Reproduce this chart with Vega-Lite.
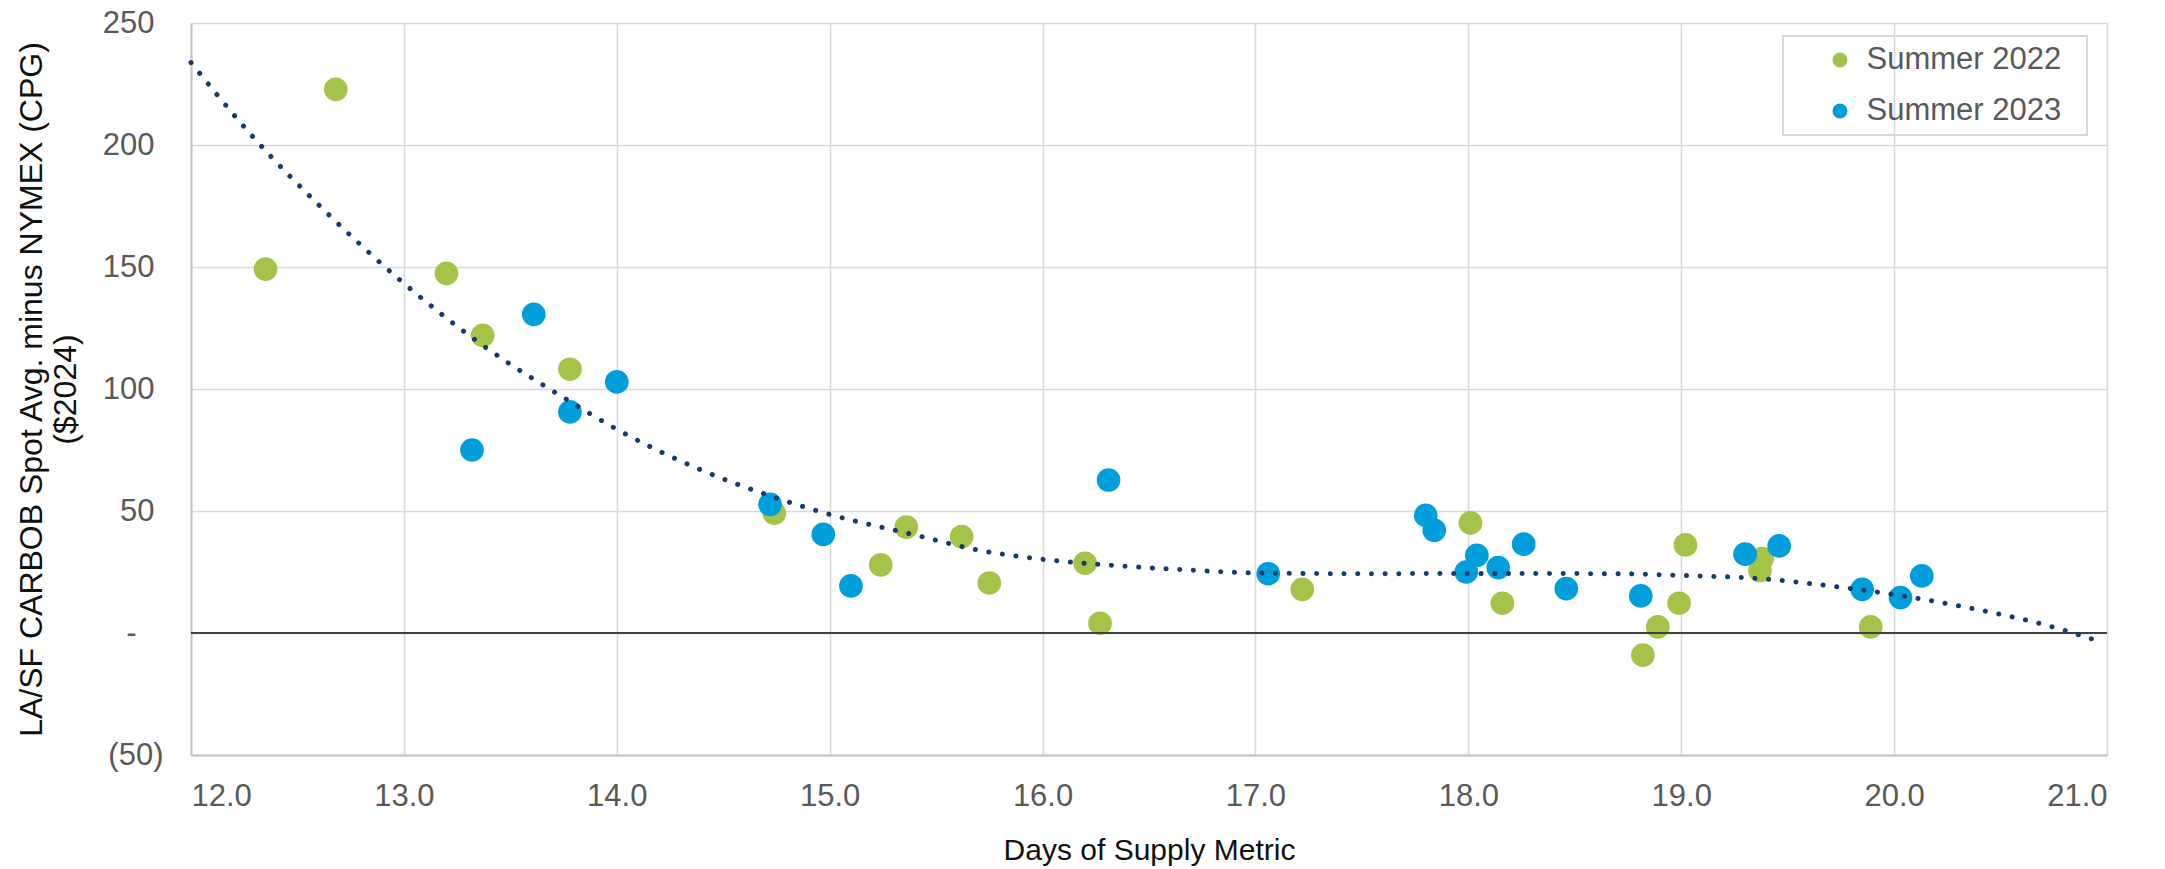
{
  "$schema": "https://vega.github.io/schema/vega-lite/v6.json",
  "autosize": {"type": "none"},
  "padding": {"left": 191, "top": 23, "right": 58, "bottom": 114},
  "width": 1916,
  "height": 732,
  "background": "#ffffff",
  "config": {
    "view": {"stroke": null},
    "font": "Liberation Sans",
    "legend": {"strokeWidth": 2},
    "axis": {
      "labelFont": "Liberation Sans",
      "titleFont": "Liberation Sans",
      "labelColor": "#595959",
      "titleColor": "#111111",
      "titleFontWeight": "normal",
      "gridColor": "#d9d9d9",
      "gridWidth": 1.6,
      "domainColor": "#c4c4c4",
      "domainWidth": 2,
      "ticks": false,
      "tickSize": 0
    }
  },
  "datasets": {
    "points": [
      {"days": 12.35, "spread": 149.1, "series": "Summer 2022"},
      {"days": 12.68, "spread": 222.8, "series": "Summer 2022"},
      {"days": 13.20, "spread": 147.4, "series": "Summer 2022"},
      {"days": 13.37, "spread": 122.0, "series": "Summer 2022"},
      {"days": 13.78, "spread": 108.1, "series": "Summer 2022"},
      {"days": 14.74, "spread": 49.1, "series": "Summer 2022"},
      {"days": 15.24, "spread": 27.9, "series": "Summer 2022"},
      {"days": 15.36, "spread": 43.4, "series": "Summer 2022"},
      {"days": 15.62, "spread": 39.5, "series": "Summer 2022"},
      {"days": 15.75, "spread": 20.5, "series": "Summer 2022"},
      {"days": 16.20, "spread": 28.6, "series": "Summer 2022"},
      {"days": 16.27, "spread": 4.0, "series": "Summer 2022"},
      {"days": 17.22, "spread": 17.9, "series": "Summer 2022"},
      {"days": 18.01, "spread": 45.1, "series": "Summer 2022"},
      {"days": 18.16, "spread": 12.2, "series": "Summer 2022"},
      {"days": 18.82, "spread": -9.1, "series": "Summer 2022"},
      {"days": 18.89, "spread": 2.5, "series": "Summer 2022"},
      {"days": 18.99, "spread": 12.2, "series": "Summer 2022"},
      {"days": 19.02, "spread": 36.1, "series": "Summer 2022"},
      {"days": 19.38, "spread": 30.5, "series": "Summer 2022"},
      {"days": 19.37, "spread": 25.6, "series": "Summer 2022"},
      {"days": 19.89, "spread": 2.5, "series": "Summer 2022"},
      {"days": 13.32, "spread": 75.0, "series": "Summer 2023"},
      {"days": 13.61, "spread": 130.6, "series": "Summer 2023"},
      {"days": 13.78, "spread": 90.6, "series": "Summer 2023"},
      {"days": 14.00, "spread": 102.9, "series": "Summer 2023"},
      {"days": 14.72, "spread": 52.7, "series": "Summer 2023"},
      {"days": 14.97, "spread": 40.4, "series": "Summer 2023"},
      {"days": 15.10, "spread": 19.3, "series": "Summer 2023"},
      {"days": 16.31, "spread": 62.7, "series": "Summer 2023"},
      {"days": 17.06, "spread": 24.3, "series": "Summer 2023"},
      {"days": 17.80, "spread": 48.2, "series": "Summer 2023"},
      {"days": 17.84, "spread": 42.1, "series": "Summer 2023"},
      {"days": 17.99, "spread": 25.0, "series": "Summer 2023"},
      {"days": 18.04, "spread": 31.8, "series": "Summer 2023"},
      {"days": 18.14, "spread": 26.8, "series": "Summer 2023"},
      {"days": 18.26, "spread": 36.4, "series": "Summer 2023"},
      {"days": 18.46, "spread": 18.2, "series": "Summer 2023"},
      {"days": 18.81, "spread": 15.2, "series": "Summer 2023"},
      {"days": 19.30, "spread": 32.3, "series": "Summer 2023"},
      {"days": 19.46, "spread": 35.7, "series": "Summer 2023"},
      {"days": 19.85, "spread": 17.9, "series": "Summer 2023"},
      {"days": 20.03, "spread": 14.5, "series": "Summer 2023"},
      {"days": 20.13, "spread": 23.4, "series": "Summer 2023"}
    ],
    "trend": [
      {"days": 12.0, "spread": 233.8},
      {"days": 12.28, "spread": 204.4},
      {"days": 12.63, "spread": 172.9},
      {"days": 13.0, "spread": 143.3},
      {"days": 13.39, "spread": 116.7},
      {"days": 13.75, "spread": 96.5},
      {"days": 14.0, "spread": 83.5},
      {"days": 14.37, "spread": 67.8},
      {"days": 14.72, "spread": 56.2},
      {"days": 15.0, "spread": 48.6},
      {"days": 15.39, "spread": 40.4},
      {"days": 15.71, "spread": 33.8},
      {"days": 16.0, "spread": 30.2},
      {"days": 16.37, "spread": 27.5},
      {"days": 16.7, "spread": 25.8},
      {"days": 17.0, "spread": 24.6},
      {"days": 17.5, "spread": 24.3},
      {"days": 18.0, "spread": 24.4},
      {"days": 18.7, "spread": 24.3},
      {"days": 19.0, "spread": 23.6},
      {"days": 19.37, "spread": 22.3},
      {"days": 19.7, "spread": 19.3},
      {"days": 20.04, "spread": 15.2},
      {"days": 20.37, "spread": 10.0},
      {"days": 20.71, "spread": 3.3},
      {"days": 20.96, "spread": -3.3}
    ]
  },
  "layer": [
    {
      "data": {"name": "points"},
      "mark": {"type": "circle", "size": 560, "opacity": 1},
      "encoding": {
        "x": {
          "field": "days", "type": "quantitative",
          "scale": {"domain": [12, 21], "nice": false, "zero": false},
          "axis": {
            "title": "Days of Supply Metric",
            "titleFontSize": 30,
            "titlePadding": 24,
            "values": [12, 13, 14, 15, 16, 17, 18, 19, 20, 21],
            "format": ".1f",
            "labelFontSize": 31,
            "labelPadding": 26,
            "grid": true
          }
        },
        "y": {
          "field": "spread", "type": "quantitative",
          "scale": {"domain": [-50, 250], "nice": false, "zero": false},
          "axis": {
            "title": ["LA/SF CARBOB Spot Avg. minus NYMEX (CPG)", "($2024)"],
            "titleFontSize": 32,
            "titleLineHeight": 34,
            "titlePadding": 20,
            "values": [-50, 0, 50, 100, 150, 200, 250],
            "labelExpr": "datum.value < 0 ? '(' + format(-datum.value, ',') + ')' : (datum.value == 0 ? '-' : format(datum.value, ','))",
            "labelFontSize": 31,
            "labelPadding": {
              "condition": [
                {"test": "datum.value < 0", "value": 28},
                {"test": "datum.value == 0", "value": 55}
              ],
              "value": 37
            },
            "grid": true
          }
        },
        "color": {
          "field": "series", "type": "nominal",
          "scale": {"domain": ["Summer 2022", "Summer 2023"], "range": ["#a5c348", "#009fdb"]},
          "legend": {
            "title": null,
            "orient": "none",
            "legendX": 1592,
            "legendY": 13,
            "strokeColor": "#d9d9d9",
            "padding": 8.5,
            "symbolType": "circle",
            "symbolSize": 227,
            "symbolOffset": 33,
            "symbolStrokeWidth": 0,
            "symbolOpacity": 1,
            "labelFont": "Liberation Sans",
            "labelFontSize": 31,
            "labelColor": "#595959",
            "labelOffset": 11,
            "labelLimit": 500,
            "rowPadding": 19,
            "labelExpr": "datum.label + '\u00a0\u00a0\u200b'"
          }
        },
        "order": {"field": "series", "sort": "ascending"}
      }
    },
    {
      "data": {"values": [{"zero": 0}]},
      "mark": {"type": "rule", "color": "#404040", "strokeWidth": 2},
      "encoding": {"y": {"field": "zero", "type": "quantitative"}}
    },
    {
      "data": {"name": "trend"},
      "mark": {
        "type": "line",
        "color": "#183b6b",
        "strokeWidth": 5,
        "strokeCap": "round",
        "strokeDash": [0.1, 13.6],
        "interpolate": "monotone"
      },
      "encoding": {
        "x": {"field": "days", "type": "quantitative"},
        "y": {"field": "spread", "type": "quantitative"}
      }
    }
  ]
}
